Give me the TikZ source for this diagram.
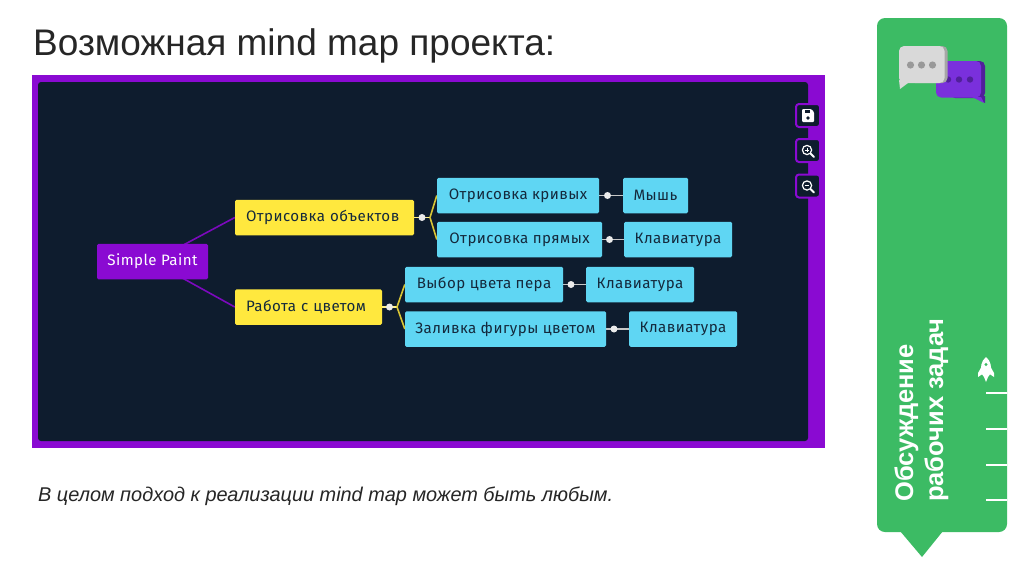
\documentclass[tikz,border=0pt]{standalone}
\usepackage{fontspec}
\setmainfont{Liberation Sans}
\newfontfamily\mapfont{Fira Sans}[LetterSpace=3]
\usetikzlibrary{backgrounds}
\definecolor{pv}{HTML}{8A0AD2}
\definecolor{dk}{HTML}{0E1C2E}
\definecolor{yl}{HTML}{FFE83E}
\definecolor{bl}{HTML}{5FD6F3}
\definecolor{gr}{HTML}{3CBB64}
\definecolor{tx}{HTML}{14293C}
\definecolor{bubp}{HTML}{7A30DC}
\definecolor{bubd}{HTML}{51209A}
\tikzset{
 mapbox/.style={rounded corners=1.5pt,inner sep=0pt,minimum height=35.5pt,font=\mapfont\fontsize{15.1}{17}\selectfont,text=tx},
 rootbox/.style={mapbox,fill=pv,text=white},
 yellowbox/.style={mapbox,fill=yl},
 bluebox/.style={mapbox,fill=bl},
 stem/.style={line width=1.6pt,color=yl!60!white},
 branch/.style={line width=1.6pt,color=yl!85!black},
 rootline/.style={line width=1.6pt,color=pv!90!black},
 leafline/.style={line width=1.6pt,color=white!78!black},
 knob/.style={circle,fill=white!92!black,inner sep=0pt,minimum size=7pt},
 btn/.style={draw=pv,line width=2pt,fill=dk,rounded corners=3pt,minimum width=24pt,minimum height=23pt,inner sep=0pt},
 vtext/.style={text=white,rotate=90,anchor=base west,inner sep=0pt,font=\bfseries\fontsize{25.5}{28}\selectfont},
}
\begin{document}
\begin{tikzpicture}[x=1pt,y=-1pt]
\useasboundingbox (0,0) rectangle (1024,574);
\begin{scope}[on background layer]
\fill[white] (0,0) rectangle (1024,574);
\fill[pv] (32,75) rectangle (825,448);
\fill[dk,rounded corners=3pt] (38,82) rectangle (808,441);
\end{scope}
\node[anchor=base west,inner sep=0pt,font=\fontsize{37}{40}\selectfont,text=black!85] (title) at (33,55) {Возможная mind map проекта:};
\node[anchor=base west,inner sep=0pt,font=\itshape\fontsize{19.9}{22}\selectfont,text=black!85] (note) at (38,501) {В целом подход к реализации mind map может быть любым.};
% map nodes
\node[rootbox,minimum width=111pt] (root) at (152.5,261.5) {Simple Paint};
\node[yellowbox,minimum width=179pt,text width=157pt,align=left] (obj) at (324.5,217.5) {Отрисовка объектов};
\node[yellowbox,minimum width=147pt,text width=125pt,align=left] (col) at (308.5,307) {Работа с цветом};
\node[bluebox,minimum width=162pt] (kriv) at (518,195.5) {Отрисовка кривых};
\node[bluebox,minimum width=65pt] (mouse) at (655.5,195.5) {Мышь};
\node[bluebox,minimum width=165pt] (pryam) at (519.5,239.5) {Отрисовка прямых};
\node[bluebox,minimum width=108pt] (kb1) at (678,239.5) {Клавиатура};
\node[bluebox,minimum width=158pt] (pen) at (484,284.5) {Выбор цвета пера};
\node[bluebox,minimum width=108pt] (kb2) at (640,284.5) {Клавиатура};
\node[bluebox,minimum width=201pt] (fillf) at (505.5,329) {Заливка фигуры цветом};
\node[bluebox,minimum width=108pt] (kb3) at (683,329) {Клавиатура};
\coordinate (j1) at (430,217.5);
\coordinate (j2) at (397,307);
\node[knob] (d1) at (422,217.5) {};
\node[knob] (d2) at (389.5,307) {};
\node[knob] (d3) at (607.5,195.5) {};
\node[knob] (d4) at (609.5,239.5) {};
\node[knob] (d5) at (571,284.5) {};
\node[knob] (d6) at (614,329) {};
\begin{scope}[on background layer]
\draw[rootline] (root.center) -- (obj.west);
\draw[rootline] (root.center) -- (col.west);
\draw[stem] (obj.east) -- (j1);
\draw[stem] (col.east) -- (j2);
\draw[branch] (j1) -- (kriv.west);
\draw[branch] (j1) -- (pryam.west);
\draw[branch] (j2) -- (pen.west);
\draw[branch] (j2) -- (fillf.west);
\draw[leafline] (kriv.east) -- (mouse.west);
\draw[leafline] (pryam.east) -- (kb1.west);
\draw[leafline] (pen.east) -- (kb2.west);
\draw[leafline] (fillf.east) -- (kb3.west);
\end{scope}
% buttons
\node[btn] (b1) at (808,115.5) {};
\node[btn] (b2) at (808,150.5) {};
\node[btn] (b3) at (808,186) {};
\fill[white,rounded corners=1pt] (802,109) -- (811,109) -- (814,112) -- (814,122) -- (802,122) -- cycle;
\fill[dk] (804.5,109.5) rectangle (810,113);
\fill[dk] (808,118) circle (1.8);
\foreach \b/\yy in {b2/150,b3/185.5}{
 \draw[white,line width=1.2pt] (807,\yy) circle (4.6);
 \draw[white,line width=1.8pt,line cap=round] (810.5,\yy+3.5) -- (814,\yy+7);
 \draw[white,line width=1pt] (804.6,\yy) -- (809.4,\yy);
}
\draw[white,line width=1pt] (807,147.6) -- (807,152.4);
% green tab
\fill[gr,rounded corners=8pt] (877,18) rectangle (1007,532);
\fill[gr] (900,531) -- (943,531) -- (922,557) -- cycle;
% bubbles
\fill[bubd,rounded corners=5pt] (950,61) -- (985,61) -- (985,98) -- (950,98) -- cycle;
\fill[bubd] (972,96) -- (985,96) -- (985,103) -- cycle;
\fill[bubp,rounded corners=5pt] (936,61) -- (981,61) -- (981,97.5) -- (936,97.5) -- cycle;
\fill[bubp] (972,97) -- (981,97) -- (984,103) -- cycle;
\foreach \xx in {948,959,970}{\fill[bubd] (\xx,79.5) circle (3.2);}
\fill[black!35,rounded corners=5pt] (910,46) -- (947.5,46) -- (947.5,83) -- (910,83) -- cycle;
\fill[black!15,rounded corners=5pt] (899,46) -- (944.5,46) -- (944.5,83) -- (899,83) -- cycle;
\fill[black!15] (899,80) -- (908,83) -- (900,89) -- cycle;
\foreach \xx in {910.5,921.5,932.5}{\fill[black!40] (\xx,65) circle (3.6);}
% vertical text
\node[vtext] (v1) at (913,502) {Обсуждение};
\node[vtext] (v2) at (943,502) {рабочих задач};
% rocket
\fill[white] (986,357) .. controls (981,361) and (980.5,367) .. (981,373) -- (984,377) -- (986,382) -- (988,377) -- (991,373) .. controls (991.5,367) and (991,361) .. (986,357) -- cycle;
\fill[white] (982,366) -- (978,373) -- (978,377) -- (982.5,374) -- cycle;
\fill[white] (990,366) -- (994,373) -- (994,377) -- (989.5,374) -- cycle;
\fill[gr] (986,364.5) circle (1.7);
% ticks
\foreach \yy in {393,429,465,500}{\draw[white,line width=1.4pt] (986,\yy) -- (1007,\yy);}
\end{tikzpicture}
\end{document}
